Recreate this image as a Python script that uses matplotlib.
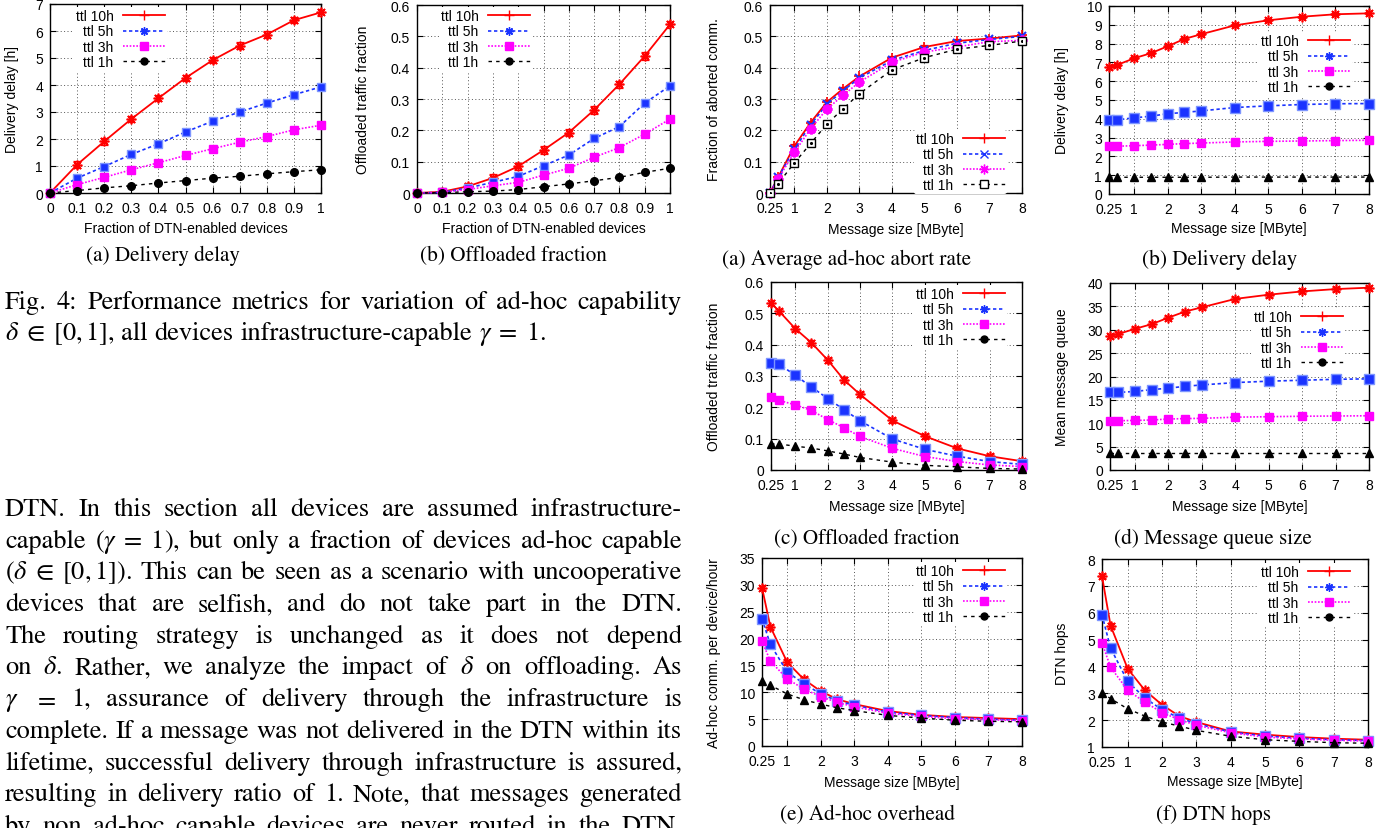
import matplotlib
matplotlib.use('Agg')
import matplotlib.pyplot as plt
from matplotlib.lines import Line2D
from matplotlib.ticker import FuncFormatter

plt.rcParams['font.family'] = ['Liberation Sans', 'DejaVu Sans']
plt.rcParams['mathtext.fontset'] = 'stix'

W, H = 1395, 829

# ---------------- data ----------------
series_labels = ['ttl 10h', 'ttl 5h', 'ttl 3h', 'ttl 1h']

frac = [0, 0.1, 0.2, 0.3, 0.4, 0.5, 0.6, 0.7, 0.8, 0.9, 1.0]
delay_frac_10h = [0, 1.05, 1.91, 2.74, 3.51, 4.26, 4.92, 5.46, 5.87, 6.40, 6.69]
delay_frac_5h = [0, 0.55, 0.98, 1.43, 1.82, 2.26, 2.66, 3.00, 3.33, 3.64, 3.93]
delay_frac_3h = [0, 0.31, 0.58, 0.86, 1.12, 1.39, 1.64, 1.88, 2.09, 2.34, 2.51]
delay_frac_1h = [0, 0.09, 0.19, 0.27, 0.37, 0.46, 0.55, 0.62, 0.71, 0.79, 0.86]

off_frac_10h = [0, 0.004, 0.021, 0.048, 0.085, 0.137, 0.193, 0.265, 0.347, 0.437, 0.538]
off_frac_5h = [0, 0.002, 0.016, 0.034, 0.053, 0.087, 0.121, 0.174, 0.212, 0.287, 0.342]
off_frac_3h = [0, 0.002, 0.011, 0.023, 0.034, 0.057, 0.079, 0.114, 0.145, 0.188, 0.236]
off_frac_1h = [0, 0.001, 0.004, 0.006, 0.011, 0.020, 0.029, 0.039, 0.050, 0.066, 0.079]

size = [0.25, 0.5, 1, 1.5, 2, 2.5, 3, 4, 5, 6, 7, 8]
size_ticks = [0.25, 1, 2, 3, 4, 5, 6, 7, 8]

abort_10h = [0, 0.050, 0.150, 0.225, 0.290, 0.333, 0.372, 0.432, 0.466, 0.485, 0.493, 0.503]
abort_5h = [0, 0.050, 0.140, 0.218, 0.283, 0.327, 0.367, 0.423, 0.455, 0.478, 0.490, 0.500]
abort_3h = [0, 0.045, 0.130, 0.205, 0.268, 0.312, 0.354, 0.417, 0.450, 0.466, 0.483, 0.487]
abort_1h = [0, 0.030, 0.096, 0.158, 0.220, 0.269, 0.317, 0.393, 0.432, 0.459, 0.471, 0.485]

delay_10h = [6.73, 6.87, 7.22, 7.49, 7.86, 8.25, 8.50, 8.97, 9.24, 9.43, 9.56, 9.61]
delay_5h = [3.95, 3.95, 4.05, 4.14, 4.27, 4.34, 4.42, 4.60, 4.69, 4.76, 4.80, 4.81]
delay_3h = [2.53, 2.54, 2.57, 2.60, 2.64, 2.68, 2.71, 2.77, 2.80, 2.82, 2.84, 2.86]
delay_1h = [0.89, 0.89, 0.89, 0.89, 0.89, 0.89, 0.89, 0.90, 0.90, 0.90, 0.90, 0.90]

off_10h = [0.533, 0.507, 0.451, 0.406, 0.351, 0.288, 0.241, 0.158, 0.108, 0.069, 0.044, 0.028]
off_5h = [0.343, 0.338, 0.302, 0.265, 0.228, 0.193, 0.157, 0.099, 0.066, 0.044, 0.027, 0.018]
off_3h = [0.232, 0.222, 0.208, 0.190, 0.161, 0.135, 0.107, 0.069, 0.043, 0.027, 0.016, 0.011]
off_1h = [0.083, 0.083, 0.076, 0.070, 0.061, 0.051, 0.040, 0.025, 0.015, 0.010, 0.005, 0.003]

queue_10h = [28.7, 29.1, 30.2, 31.2, 32.6, 33.9, 34.8, 36.6, 37.5, 38.2, 38.7, 39.0]
queue_5h = [16.6, 16.6, 16.8, 17.2, 17.5, 17.9, 18.2, 18.7, 19.0, 19.2, 19.4, 19.5]
queue_3h = [10.5, 10.55, 10.6, 10.7, 10.9, 11.0, 11.05, 11.3, 11.4, 11.5, 11.55, 11.6]
queue_1h = [3.6, 3.6, 3.6, 3.6, 3.6, 3.6, 3.6, 3.6, 3.6, 3.6, 3.6, 3.6]

adhoc_10h = [29.5, 22.2, 15.6, 12.4, 10.2, 8.7, 7.8, 6.5, 5.8, 5.4, 5.2, 5.0]
adhoc_5h = [23.7, 18.9, 13.8, 11.6, 9.7, 8.4, 7.6, 6.3, 5.7, 5.3, 5.0, 4.8]
adhoc_3h = [19.5, 15.8, 12.5, 10.6, 9.2, 8.1, 7.3, 6.1, 5.5, 5.1, 4.9, 4.7]
adhoc_1h = [12.1, 11.3, 9.7, 8.6, 7.8, 7.1, 6.6, 5.7, 5.2, 4.8, 4.6, 4.5]

hops_10h = [7.36, 5.52, 3.91, 3.11, 2.57, 2.15, 1.93, 1.58, 1.46, 1.37, 1.31, 1.27]
hops_5h = [5.92, 4.68, 3.44, 2.82, 2.39, 2.08, 1.87, 1.56, 1.41, 1.33, 1.27, 1.24]
hops_3h = [4.87, 3.97, 3.11, 2.67, 2.28, 2.02, 1.81, 1.53, 1.37, 1.30, 1.25, 1.22]
hops_1h = [3.02, 2.80, 2.42, 2.15, 1.93, 1.78, 1.62, 1.40, 1.27, 1.21, 1.16, 1.14]

# error bar half-widths for the ttl 10h series
err_delay_frac = 0.12
err_off_frac = 0.012
err_right = {'abort': 0.006, 'delay': 0.06, 'off': 0.008, 'queue': 0.4, 'adhoc': 0.4, 'hops': 0.08}

# ---------------- styles ----------------
RED, BLUE, MAG, BLK = '#ff0000', '#1a33ff', '#ff00ff', '#000000'
STAR = (8, 2, 0)
STY = {
    'ttl 10h': dict(color=RED, ls='-', lw=1.3),
    'ttl 5h': dict(color=BLUE, ls=(0, (2, 1.6)), lw=1.2),
    'ttl 3h': dict(color=MAG, ls=(0, (1, 1)), lw=1.2),
    'ttl 1h': dict(color=BLK, ls=(0, (2.5, 3)), lw=1.0),
}
FS = 10

fig = plt.figure(figsize=(W / 100, H / 100), dpi=100)


def add_ax(x0, y0, x1, y1):
    return fig.add_axes([x0 / W, 1 - y1 / H, (x1 - x0) / W, (y1 - y0) / H])


fmt = FuncFormatter(lambda v, p: '%g' % round(v, 3))


def style_ax(ax, box, xlim, xticks, ylim, yticks, xlabel, ylabel, xlab_y, ylab_x):
    x0, y0, x1, y1 = box
    ax.set_xlim(*xlim)
    ax.set_ylim(*ylim)
    ax.set_xticks(xticks)
    ax.set_yticks(yticks)
    ax.xaxis.set_major_formatter(fmt)
    ax.yaxis.set_major_formatter(fmt)
    ax.tick_params(direction='in', length=4, width=0.8, top=True, right=True,
                   labelsize=FS, colors='black')
    ax.tick_params(axis='x', pad=6)
    ax.tick_params(axis='y', pad=5)
    ax.grid(True, ls=(0, (1, 2.5)), color='#555555', lw=0.7, zorder=0)
    for s in ax.spines.values():
        s.set_linewidth(1.0)
    ax.set_xlabel(xlabel, fontsize=FS, va='center')
    ax.set_ylabel(ylabel, fontsize=FS, va='center')
    ax.xaxis.set_label_coords(0.5, -(xlab_y - y1) / (y1 - y0))
    ax.yaxis.set_label_coords(-(x0 - ylab_x) / (x1 - x0), 0.5)


def plot_series(ax, x, y, label, marker, ms, mfc, mec, mew=1.0, yerr=None):
    st = STY[label]
    if yerr is not None:
        ax.errorbar(x, y, yerr=yerr, fmt='none', ecolor=st['color'],
                    elinewidth=0.9, capsize=3, capthick=0.9, zorder=3)
    ax.plot(x, y, color=st['color'], ls=st['ls'], lw=st['lw'], marker=marker,
            ms=ms, mfc=mfc, mec=mec, mew=mew, zorder=4, clip_on=False)


def add_legend(ax, markers, xr, yrow):
    handles = []
    for lab, (mk, ms, mfc, mec) in zip(series_labels, markers):
        st = STY[lab]
        handles.append(Line2D([], [], color=st['color'], ls=st['ls'], lw=st['lw'],
                              marker=mk, ms=ms, mfc=mfc, mec=mec))
    leg = ax.legend(handles, series_labels, loc='upper right',
                    bbox_to_anchor=((xr + 2) / W, 1 - (yrow - 9) / H),
                    bbox_transform=fig.transFigure, markerfirst=False,
                    frameon=True, facecolor='white', edgecolor='none', framealpha=1,
                    borderpad=0.15, borderaxespad=0, handlelength=3.0,
                    handletextpad=0.7, labelspacing=0.1, fontsize=FS, numpoints=1)
    leg.set_zorder(5)


LEG_STD = [('+', 7, RED, RED), (STAR, 6, BLUE, BLUE), ('s', 5.5, MAG, MAG), ('o', 5, BLK, BLK)]

# ---------- left (a) delivery delay vs fraction ----------
box = (50, 5, 321, 194)
ax = add_ax(*box)
plot_series(ax, frac, delay_frac_10h, 'ttl 10h', STAR, 7, RED, RED, 1.2,
            yerr=[err_delay_frac] * len(frac))
plot_series(ax, frac, delay_frac_5h, 'ttl 5h', 's', 6, BLUE, '#7d95ff')
plot_series(ax, frac, delay_frac_3h, 'ttl 3h', 's', 6, MAG, MAG)
plot_series(ax, frac, delay_frac_1h, 'ttl 1h', 'o', 5.5, BLK, BLK)
style_ax(ax, box, (0, 1), frac, (0, 7), range(0, 8),
         'Fraction of DTN-enabled devices', 'Delivery delay [h]', 229, 12)
add_legend(ax, LEG_STD, 165, 17)

# ---------- left (b) offloaded fraction vs fraction ----------
box = (417, 6, 670, 194)
ax = add_ax(*box)
plot_series(ax, frac, off_frac_10h, 'ttl 10h', STAR, 7, RED, RED, 1.2,
            yerr=[err_off_frac] * len(frac))
plot_series(ax, frac, off_frac_5h, 'ttl 5h', 's', 6, BLUE, '#7d95ff')
plot_series(ax, frac, off_frac_3h, 'ttl 3h', 's', 6, MAG, MAG)
plot_series(ax, frac, off_frac_1h, 'ttl 1h', 'o', 5.5, BLK, BLK)
style_ax(ax, box, (0, 1), frac, (0, 0.6), [0, 0.1, 0.2, 0.3, 0.4, 0.5, 0.6],
         'Fraction of DTN-enabled devices', 'Offloaded traffic fraction', 229, 363)
add_legend(ax, LEG_STD, 530, 17)

# ---------- right (a) abort rate ----------
box = (770, 6, 1022, 194)
ax = add_ax(*box)
plot_series(ax, size, abort_10h, 'ttl 10h', '+', 7, RED, RED, 1.2,
            yerr=[err_right['abort']] * len(size))
plot_series(ax, size, abort_5h, 'ttl 5h', 'x', 6, BLUE, BLUE, 1.5)
plot_series(ax, size, abort_3h, 'ttl 3h', STAR, 7, MAG, MAG, 2.0)
plot_series(ax, size, abort_1h, 'ttl 1h', 's', 6, 'white', BLK, 1.0)
ax.plot(size, abort_1h, ls='none', marker='.', ms=2.5, color=BLK, zorder=5)
style_ax(ax, box, (0.25, 8), size_ticks, (0, 0.6), [0, 0.1, 0.2, 0.3, 0.4, 0.5, 0.6],
         'Message size [MByte]', 'Fraction of aborted comm.', 230, 714)
add_legend(ax, [('+', 7, RED, RED), ('x', 6, BLUE, BLUE), (STAR, 7, MAG, MAG),
                ('s', 6, 'white', BLK)], 1005, 140)

RIGHT_MK = [(STAR, 7, RED, RED), ('s', 6.5, BLUE, '#7d95ff'), ('s', 6, MAG, MAG), ('^', 6, BLK, BLK)]


def right_panel(box, ys, err, ylim, yticks, ylabel, xlab_y, ylab_x, legxy):
    ax = add_ax(*box)
    for lab, y, (mk, ms, mfc, mec) in zip(series_labels, ys, RIGHT_MK):
        plot_series(ax, size, y, lab, mk, ms, mfc, mec, 1.2 if lab == 'ttl 10h' else 1.0,
                    yerr=[err] * len(size) if lab == 'ttl 10h' else None)
    style_ax(ax, box, (0.25, 8), size_ticks, ylim, yticks, 'Message size [MByte]',
             ylabel, xlab_y, ylab_x)
    add_legend(ax, LEG_STD, *legxy)
    return ax


right_panel((1109, 7, 1369, 195), [delay_10h, delay_5h, delay_3h, delay_1h], err_right['delay'],
            (0, 10), range(0, 11), 'Delivery delay [h]', 229, 1062, (1350, 42))
right_panel((771, 283, 1022, 471), [off_10h, off_5h, off_3h, off_1h], err_right['off'],
            (0, 0.6), [0, 0.1, 0.2, 0.3, 0.4, 0.5, 0.6], 'Offloaded traffic fraction', 507, 714,
            (1005, 295))
right_panel((1110, 284, 1369, 471), [queue_10h, queue_5h, queue_3h, queue_1h], err_right['queue'],
            (0, 40), range(0, 41, 5), 'Mean message queue', 507, 1062, (1343, 318))
right_panel((762, 559, 1022, 747), [adhoc_10h, adhoc_5h, adhoc_3h, adhoc_1h], err_right['adhoc'],
            (0, 35), range(0, 36, 5), 'Ad-hoc comm. per device/hour', 783, 714, (1005, 572))
right_panel((1102, 560, 1368, 748), [hops_10h, hops_5h, hops_3h, hops_1h], err_right['hops'],
            (1, 8), range(1, 9), 'DTN hops', 782, 1062, (1350, 573))

# ---------------- serif text ----------------
SERIF = 'STIXGeneral'
subcaps = [
    ('(a) Delivery delay', 163, 261),
    ('(b) Offloaded fraction', 513, 261),
    ('(a) Average ad-hoc abort rate', 847, 265),
    ('(b) Delivery delay', 1220, 265),
    ('(c) Offloaded fraction', 867, 544),
    ('(d) Message queue size', 1213, 544),
    ('(e) Ad-hoc overhead', 867, 820),
    ('(f) DTN hops', 1213, 820),
]
for txt, x, y in subcaps:
    fig.text(x / W, 1 - y / H, txt, family=SERIF, fontsize=15.2, ha='center', va='baseline')

renderer = fig.canvas.get_renderer()

caption_lines = [
    'Fig. 4: Performance metrics for variation of ad-hoc capability',
    r'$\delta\;\in\;[0,1]$, all devices infrastructure-capable $\gamma\;=\;1$.',
]
body_lines = [
    'DTN. In this section all devices are assumed infrastructure-',
    r'capable ($\gamma\;=\;1$), but only a fraction of devices ad-hoc capable',
    r'($\delta\;\in\;[0,1]$). This can be seen as a scenario with uncooperative',
    'devices that are selfish, and do not take part in the DTN.',
    'The routing strategy is unchanged as it does not depend',
    r'on $\delta$. Rather, we analyze the impact of $\delta$ on offloading. As',
    r'$\gamma$ $=$ 1, assurance of delivery through the infrastructure is',
    'complete. If a message was not delivered in the DTN within its',
    'lifetime, successful delivery through infrastructure is assured,',
    'resulting in delivery ratio of 1. Note, that messages generated',
    'by non ad-hoc capable devices are never routed in the DTN.',
]
X0, X1 = 5, 682


def word_widths(words, fs):
    ts = [fig.text(0, 0, w, family=SERIF, fontsize=fs) for w in words]
    ws = [t.get_window_extent(renderer).width for t in ts]
    for t in ts:
        t.remove()
    return ws


# choose the body font size so that every justified line fits with a minimal gap
BODY_SIZE = 19.0
for line in body_lines + caption_lines[:1]:
    words = line.split(' ')
    ws = word_widths(words, BODY_SIZE)
    need = sum(ws) + 3.5 * (len(words) - 1)
    if need > X1 - X0:
        BODY_SIZE *= (X1 - X0) / need


def place_line(line, ybase, justify=True):
    words = line.split(' ')
    ts = [fig.text(0, 1 - ybase / H, w, family=SERIF, fontsize=BODY_SIZE,
                   ha='left', va='baseline') for w in words]
    widths = [t.get_window_extent(renderer).width for t in ts]
    if justify and len(words) > 1:
        gap = (X1 - X0 - sum(widths)) / (len(words) - 1)
    else:
        gap = 0.25 * BODY_SIZE * 100 / 72
    x = X0
    for t, w in zip(ts, widths):
        t.set_x(x / W)
        x += w + gap


place_line(caption_lines[0], 309)
place_line(caption_lines[1], 340, justify=False)
for i, line in enumerate(body_lines):
    place_line(line, 516 + 31.7 * i)

fig.savefig('out.png', dpi=100)
